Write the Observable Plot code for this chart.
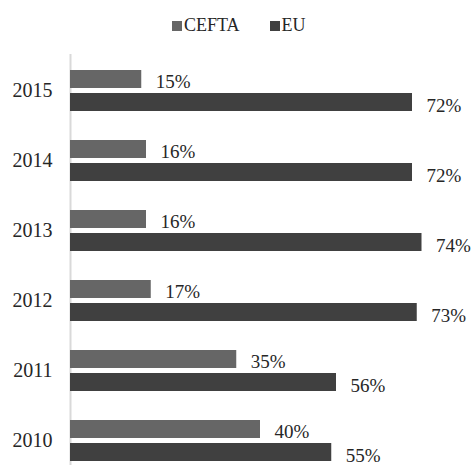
<!DOCTYPE html>
<html>
<head>
<meta charset="utf-8">
<script src="https://cdn.jsdelivr.net/npm/d3@7"></script>
<script src="https://cdn.jsdelivr.net/npm/@observablehq/plot@0.6"></script>
<style>
  html, body { margin: 0; padding: 0; background: #fff; }
  #wrap { position: relative; width: 473px; height: 465px; font-family: "Liberation Serif", serif; }
  #legend { position: absolute; top: 15px; left: 172px; }
  #legend * { font-family: "Liberation Serif", serif !important; font-size: 18px !important; color: #262626 !important; }
  #legend > div { min-height: 0 !important; margin: 0 !important; }
  #legend span { margin-right: 30px !important; }
  #legend span > svg { margin-right: 2px !important; }
  #chart { position: absolute; top: 0; left: 0; }
</style>
</head>
<body>
<div id="wrap">
  <div id="chart"></div>
  <div id="legend"></div>
</div>
<script>
const years = ["2015", "2014", "2013", "2012", "2011", "2010"];
const series = ["CEFTA", "EU"];
const ceftaValues = [15, 16, 16, 17, 35, 40];
const euValues = [72, 72, 74, 73, 56, 55];
const colors = ["#666666", "#404040"];

const cefta = years.map((year, i) => ({year, series: "CEFTA", value: ceftaValues[i]}));
const eu = years.map((year, i) => ({year, series: "EU", value: euValues[i]}));

const chart = Plot.plot({
  width: 473,
  height: 465,
  marginLeft: 70,
  marginRight: 23,
  marginTop: 54,
  marginBottom: 0,
  style: {fontFamily: "Liberation Serif, serif", fontSize: "20px", color: "#262626", background: "#fff"},
  x: {domain: [0, 80], axis: null},
  y: {domain: years, paddingInner: 29 / 70, paddingOuter: 10 / 70, align: 0.8, label: null, tickSize: 0, tickPadding: 18},
  color: {domain: series, range: colors},
  marks: [
    Plot.ruleX([0], {stroke: "#d9d9d9", strokeWidth: 2}),
    Plot.barX(cefta, {x: "value", y: "year", fill: "series", insetBottom: 23}),
    Plot.barX(eu, {x: "value", y: "year", fill: "series", insetTop: 23}),
    Plot.text(cefta, {x: "value", y: "year", text: d => d.value + "%", dx: 14, dy: -9.5, textAnchor: "start", fontSize: 19, fill: "#262626"}),
    Plot.text(eu, {x: "value", y: "year", text: d => d.value + "%", dx: 14, dy: 14.5, textAnchor: "start", fontSize: 19, fill: "#262626"})
  ]
});
document.getElementById("chart").append(chart);

const legend = Plot.legend({
  color: {domain: series, range: colors},
  legend: "swatches",
  swatchSize: 10,
  style: {fontFamily: "Liberation Serif, serif", fontSize: "18px", color: "#262626"}
});
document.getElementById("legend").append(legend);
</script>
</body>
</html>
